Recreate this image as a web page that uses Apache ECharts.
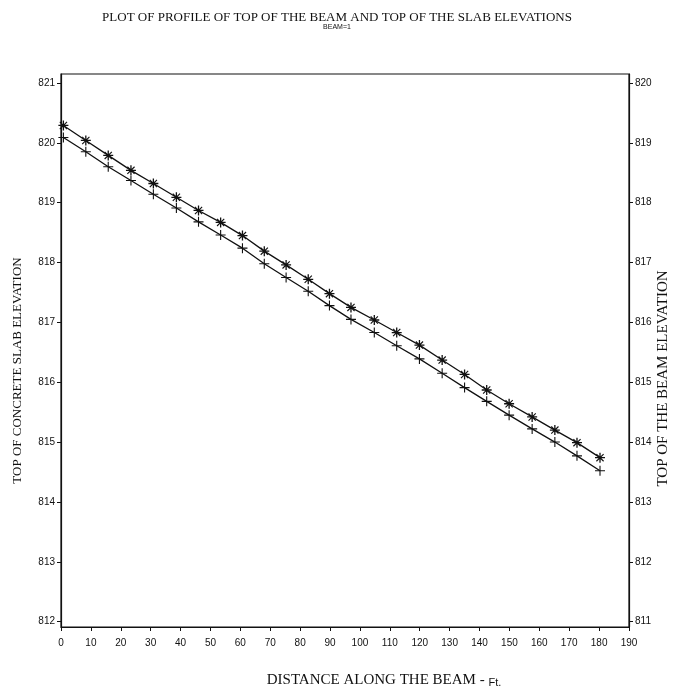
<!DOCTYPE html>
<html>
<head>
<meta charset="utf-8">
<script src="https://cdn.jsdelivr.net/npm/echarts@6/dist/echarts.min.js"></script>
<style>html,body{margin:0;padding:0;background:#fff}#c{width:674px;height:692px}</style>
</head>
<body>
<div id="c"></div>
<script>
// Distance along the beam (ft) for each station
var distance = [0.8, 8.3, 15.8, 23.4, 30.9, 38.6, 46.0, 53.4, 60.7, 68.0, 75.3, 82.7, 89.8, 97.0, 104.8, 112.3, 119.9, 127.5, 135.0, 142.4, 149.9, 157.6, 165.2, 172.6, 180.3];
// Top of concrete slab elevation (left axis)
var slabElev = [820.29, 820.04, 819.79, 819.54, 819.32, 819.09, 818.87, 818.67, 818.45, 818.19, 817.96, 817.72, 817.48, 817.25, 817.04, 816.83, 816.62, 816.37, 816.13, 815.87, 815.64, 815.42, 815.20, 814.99, 814.74];
// Top of the beam elevation (right axis)
var beamElev = [819.09, 818.85, 818.60, 818.37, 818.14, 817.91, 817.68, 817.46, 817.24, 816.98, 816.75, 816.52, 816.28, 816.05, 815.83, 815.61, 815.39, 815.15, 814.91, 814.68, 814.45, 814.22, 814.00, 813.77, 813.52];
var leftTicks = [812, 813, 814, 815, 816, 817, 818, 819, 820, 821];
var rightTicks = [811, 812, 813, 814, 815, 816, 817, 818, 819, 820];

var slabData = distance.map(function (d, i) { return [d, slabElev[i]]; });
var beamData = distance.map(function (d, i) { return [d, beamElev[i]]; });

var plusPath = 'path://M-0.55,-5h1.1v10h-1.1zM-5,-0.55h10v1.1h-10z';
var starPath = 'path://M-0.65,-5h1.3v10h-1.3zM-5,-0.65h10v1.3h-10zM-3.2,-4L4,3.2L3.2,4L-4,-3.2ZM3.2,-4L4,-3.2L-3.2,4L-4,3.2Z';

var serif = 'Liberation Serif';
var sans = 'Liberation Sans';

var chart = echarts.init(document.getElementById('c'), null, {renderer: 'canvas'});
chart.setOption({
  animation: false,
  backgroundColor: '#fff',
  title: {
    text: 'PLOT OF PROFILE OF TOP OF THE BEAM AND TOP OF THE SLAB ELEVATIONS',
    subtext: 'BEAM=1',
    left: 'center',
    top: 6,
    itemGap: 0,
    textStyle: {fontFamily: serif, fontSize: 13, fontWeight: 'normal', color: '#111'},
    subtextStyle: {fontFamily: sans, fontSize: 7, color: '#111'}
  },
  grid: {left: 61, right: 45, top: 74, bottom: 65, containLabel: false, outerBoundsMode: 'none',
    show: true, borderColor: '#111', borderWidth: 1.2, backgroundColor: 'transparent'},
  xAxis: {
    type: 'value',
    min: 0, max: 190, interval: 10,
    name: '{m|DISTANCE ALONG THE BEAM - }{s|Ft.}',
    nameLocation: 'middle',
    nameGap: 44,
    nameTextStyle: {color: '#111', padding: [0, 0, 0, 78],
      rich: {
        m: {fontFamily: serif, fontSize: 15, color: '#111', lineHeight: 17, verticalAlign: 'bottom'},
        s: {fontFamily: sans, fontSize: 11, color: '#111', lineHeight: 17, verticalAlign: 'bottom'}
      }},
    axisLine: {lineStyle: {color: '#111', width: 1.2}},
    axisTick: {show: true, length: 4, lineStyle: {color: '#111'}},
    axisLabel: {fontFamily: sans, fontSize: 10, color: '#111', margin: 11},
    splitLine: {show: false}
  },
  yAxis: [{
    type: 'value',
    position: 'left',
    min: 811.91, max: 821.15,
    name: 'TOP OF CONCRETE SLAB ELEVATION',
    nameLocation: 'middle',
    nameGap: 37,
    nameMoveOverlap: false,
    nameTextStyle: {fontFamily: serif, fontSize: 13, color: '#111', padding: [0, 40, 0, 0]},
    axisLine: {show: true, lineStyle: {color: '#111', width: 1.2}},
    axisTick: {show: true, length: 4, customValues: leftTicks, lineStyle: {color: '#111'}},
    axisLabel: {fontFamily: sans, fontSize: 10, color: '#111', margin: 6, customValues: leftTicks},
    splitLine: {show: false}
  }, {
    type: 'value',
    position: 'right',
    min: 810.91, max: 820.15,
    name: 'TOP OF THE BEAM ELEVATION',
    nameLocation: 'middle',
    nameGap: 27,
    nameMoveOverlap: false,
    nameTextStyle: {fontFamily: serif, fontSize: 15, color: '#111', padding: [0, 56, 0, 0]},
    axisLine: {show: true, lineStyle: {color: '#111', width: 1.2}},
    axisTick: {show: true, length: 4, customValues: rightTicks, lineStyle: {color: '#111'}},
    axisLabel: {fontFamily: sans, fontSize: 10, color: '#111', margin: 6, customValues: rightTicks},
    splitLine: {show: false}
  }],
  series: [{
    name: 'Top of concrete slab',
    type: 'line',
    yAxisIndex: 0,
    data: slabData,
    symbol: starPath,
    symbolSize: 10,
    showAllSymbol: true,
    lineStyle: {color: '#111', width: 1.3},
    itemStyle: {color: '#111'}
  }, {
    name: 'Top of the beam',
    type: 'line',
    yAxisIndex: 1,
    data: beamData,
    symbol: plusPath,
    symbolSize: 10,
    showAllSymbol: true,
    lineStyle: {color: '#111', width: 1.3},
    itemStyle: {color: '#111'}
  }]
});
</script>
</body>
</html>
